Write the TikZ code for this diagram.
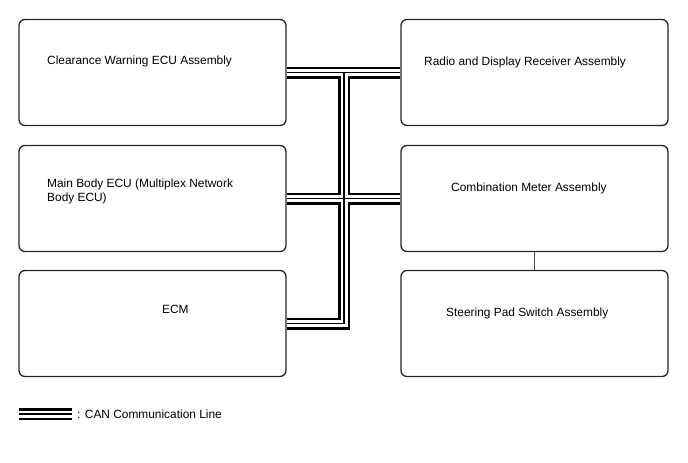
\documentclass[tikz,border=0pt]{standalone}
\usepackage{fontspec}
\setmainfont{Liberation Sans}
\begin{document}
\begin{tikzpicture}[x=1pt, y=-1pt,
    unit/.style={draw=black!85, line width=1.3pt, rounded corners=6pt,
                 minimum width=267pt, minimum height=106pt, inner sep=0pt},
    lbl/.style={anchor=west, align=left, inner sep=0pt,
                font=\fontsize{11.9}{14}\selectfont},
    canouter/.style={draw=black, line width=2.5pt, double=white, double distance=7pt},
    caninner/.style={draw=black, line width=1.2pt},
    link/.style={draw=black!70, line width=1pt}
]
\useasboundingbox (0,0) rectangle (688,463);

\node[unit] (lb1) at (152.5, 72.5) {};
\node[unit] (lb2) at (152.5,198.5) {};
\node[unit] (lb3) at (152.5,323.5) {};
\node[unit] (rb1) at (534.5, 72.5) {};
\node[unit] (rb2) at (534.5,198.5) {};
\node[unit] (rb3) at (534.5,323.5) {};

\node[lbl] (t1) at ( 47, 61) {Clearance Warning ECU Assembly};
\node[lbl] (t2) at ( 47,191) {Main Body ECU (Multiplex Network\\Body ECU)};
\node[lbl] (t3) at (162,309) {ECM};
\node[lbl] (t4) at (424, 62) {Radio and Display Receiver Assembly};
\node[lbl] (t5) at (451,188) {Combination Meter Assembly};
\node[lbl] (t6) at (446,313) {Steering Pad Switch Assembly};

\coordinate (jt) at (344,72.5);
\coordinate (lg1) at (19,414);
\coordinate (lg2) at (72,414);
\node[lbl] (lgt) at (77,414) {: CAN Communication Line};

% CAN bus
\foreach \s in {canouter, caninner}
  \draw[\s] (lb1.east) -- (rb1.west)
            (lb2.east) -- (rb2.west)
            (lb3.east) -| (jt)
            (lg1) -- (lg2);

\draw[link] (rb2.south) -- (rb3.north);
\end{tikzpicture}
\end{document}
